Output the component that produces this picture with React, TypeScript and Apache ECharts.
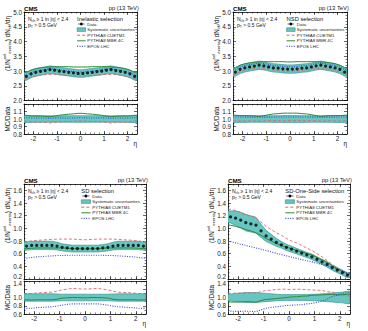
import React, { useEffect, useRef } from "react";
import * as echarts from "echarts";

// Bin centres in eta (bin width 0.2) and labelled eta ticks
const etaCenters = [-2.3, -2.1, -1.9, -1.7, -1.5, -1.3, -1.1, -0.9, -0.7, -0.5, -0.3, -0.1, 0.1, 0.3, 0.5, 0.7, 0.9, 1.1, 1.3, 1.5, 1.7, 1.9, 2.1, 2.3];
const etaTicks = [-2, -1, 0, 1, 2];
const etaRange = [-2.4, 2.4];

// Inelastic selection
const inelasticData = [2.82, 2.91, 2.96, 2.99, 3.02, 3.05, 3.03, 3.0, 2.98, 2.96, 2.94, 2.92, 2.92, 2.94, 2.96, 2.98, 3.0, 3.03, 3.05, 3.02, 2.99, 2.96, 2.91, 2.82];
const inelasticSys = [0.046, 0.045, 0.044, 0.043, 0.042, 0.042, 0.042, 0.042, 0.043, 0.043, 0.044, 0.044, 0.044, 0.044, 0.043, 0.043, 0.042, 0.042, 0.042, 0.042, 0.043, 0.044, 0.045, 0.046];
const inelasticCUETM1 = [2.74, 2.79, 2.83, 2.86, 2.88, 2.89, 2.89, 2.88, 2.87, 2.86, 2.85, 2.84, 2.84, 2.85, 2.86, 2.87, 2.88, 2.89, 2.89, 2.88, 2.86, 2.83, 2.79, 2.74];
const inelasticMBR4C = [2.96, 3.03, 3.08, 3.11, 3.13, 3.14, 3.15, 3.15, 3.15, 3.15, 3.14, 3.14, 3.14, 3.14, 3.15, 3.15, 3.15, 3.15, 3.14, 3.13, 3.11, 3.08, 3.03, 2.96];
const inelasticEPOS = [2.87, 2.95, 3.0, 3.03, 3.06, 3.08, 3.07, 3.05, 3.02, 3.0, 2.98, 2.97, 2.97, 2.98, 3.0, 3.02, 3.05, 3.07, 3.08, 3.06, 3.03, 3.0, 2.95, 2.87];

// NSD selection
const nsdData = [2.97, 3.06, 3.11, 3.14, 3.17, 3.2, 3.18, 3.14, 3.11, 3.1, 3.08, 3.07, 3.07, 3.08, 3.1, 3.11, 3.14, 3.18, 3.2, 3.17, 3.14, 3.11, 3.06, 2.97];
const nsdSys = [0.047, 0.046, 0.045, 0.044, 0.044, 0.044, 0.044, 0.044, 0.045, 0.045, 0.046, 0.046, 0.046, 0.046, 0.045, 0.045, 0.044, 0.044, 0.044, 0.044, 0.044, 0.045, 0.046, 0.047];
const nsdCUETM1 = [2.9, 2.98, 3.03, 3.06, 3.09, 3.11, 3.1, 3.07, 3.04, 3.03, 3.01, 3.0, 3.0, 3.01, 3.03, 3.04, 3.07, 3.1, 3.11, 3.09, 3.06, 3.03, 2.98, 2.9];
const nsdMBR4C = [3.12, 3.2, 3.25, 3.28, 3.3, 3.31, 3.32, 3.32, 3.32, 3.32, 3.32, 3.31, 3.31, 3.32, 3.32, 3.32, 3.32, 3.32, 3.31, 3.3, 3.28, 3.25, 3.2, 3.12];
const nsdEPOS = [3.05, 3.14, 3.19, 3.22, 3.25, 3.27, 3.26, 3.22, 3.19, 3.18, 3.16, 3.15, 3.15, 3.16, 3.18, 3.19, 3.22, 3.26, 3.27, 3.25, 3.22, 3.19, 3.14, 3.05];

// SD selection
const sdData = [0.72, 0.73, 0.73, 0.73, 0.73, 0.73, 0.72, 0.7, 0.69, 0.68, 0.68, 0.68, 0.68, 0.68, 0.68, 0.69, 0.7, 0.72, 0.73, 0.73, 0.73, 0.73, 0.73, 0.72];
const sdSys = [0.09, 0.09, 0.09, 0.09, 0.09, 0.09, 0.085, 0.08, 0.08, 0.08, 0.08, 0.08, 0.08, 0.08, 0.08, 0.08, 0.08, 0.085, 0.09, 0.09, 0.09, 0.09, 0.09, 0.09];
const sdCUETM1 = [0.79, 0.8, 0.81, 0.815, 0.82, 0.825, 0.83, 0.83, 0.83, 0.83, 0.825, 0.82, 0.82, 0.825, 0.83, 0.83, 0.83, 0.83, 0.825, 0.82, 0.815, 0.81, 0.8, 0.79];
const sdMBR4C = [0.68, 0.685, 0.69, 0.69, 0.69, 0.69, 0.69, 0.69, 0.685, 0.68, 0.68, 0.675, 0.675, 0.68, 0.68, 0.685, 0.69, 0.69, 0.69, 0.69, 0.69, 0.69, 0.685, 0.68];
const sdEPOS = [0.53, 0.54, 0.55, 0.555, 0.56, 0.565, 0.57, 0.57, 0.575, 0.575, 0.575, 0.575, 0.575, 0.575, 0.575, 0.575, 0.57, 0.57, 0.565, 0.56, 0.555, 0.55, 0.54, 0.53];

// SD-One-Side selection
const sdosData = [1.18, 1.16, 1.13, 1.09, 1.07, 1.05, 0.96, 0.88, 0.83, 0.78, 0.74, 0.7, 0.67, 0.64, 0.61, 0.58, 0.55, 0.51, 0.47, 0.43, 0.38, 0.34, 0.3, 0.26];
const sdosSys = [0.08, 0.1, 0.11, 0.12, 0.12, 0.12, 0.11, 0.1, 0.09, 0.08, 0.07, 0.07, 0.07, 0.07, 0.07, 0.07, 0.08, 0.08, 0.09, 0.1, 0.11, 0.12, 0.13, 0.15];
const sdosCUETM1 = [1.3, 1.28, 1.25, 1.21, 1.19, 1.16, 1.1, 1.03, 0.98, 0.93, 0.89, 0.84, 0.8, 0.77, 0.73, 0.69, 0.65, 0.6, 0.55, 0.49, 0.43, 0.37, 0.32, 0.27];
const sdosMBR4C = [1.05, 1.03, 1.01, 0.98, 0.96, 0.93, 0.89, 0.84, 0.8, 0.76, 0.73, 0.7, 0.68, 0.65, 0.63, 0.6, 0.58, 0.54, 0.5, 0.46, 0.41, 0.36, 0.32, 0.28];
const sdosEPOS = [0.79, 0.77, 0.75, 0.73, 0.71, 0.69, 0.67, 0.65, 0.63, 0.605, 0.585, 0.565, 0.545, 0.525, 0.505, 0.49, 0.47, 0.45, 0.43, 0.41, 0.39, 0.36, 0.33, 0.29];

const legendLabels = ["Data", "Systematic uncertainties", "PYTHIA8 CUETM1", "PYTHIA8 MBR 4C", "EPOS LHC"];

const FONT = "'Liberation Sans', Arial, Helvetica, sans-serif";
const BAND_FILL = "#68c6c2";
const BAND_EDGE = "#2e8c80";
const RED = "#e2636c";
const GREEN = "#2f8a3c";
const BLUE = "#3a4cdc";

type AxisSpec = { min: number; max: number; interval: number; minor: number; showMax: boolean; edgeNudge: number };
type Panel = {
  selection: string;
  data: number[];
  sys: number[];
  cuetm1: number[];
  mbr: number[];
  epos: number[];
  left: number;
  width: number;
  mainTop: number;
  mainHeight: number;
  ratioTop: number;
  ratioHeight: number;
  mainAxis: AxisSpec;
  ratioAxis: AxisSpec;
};

// edgeNudge > 0 lifts the lowest label, < 0 lowers the highest one (keeps stacked panels' labels apart)
const topMain: AxisSpec = { min: 2, max: 5, interval: 0.5, minor: 5, showMax: true, edgeNudge: 0 };
const topRatio: AxisSpec = { min: 0.8, max: 1.2, interval: 0.1, minor: 2, showMax: false, edgeNudge: 0 };
const botMain: AxisSpec = { min: 0.2, max: 1.7, interval: 0.2, minor: 4, showMax: false, edgeNudge: 5 };
const botRatio: AxisSpec = { min: 0.6, max: 1.4, interval: 0.2, minor: 2, showMax: true, edgeNudge: -5 };

const panels: Panel[] = [
  { selection: "Inelastic selection", data: inelasticData, sys: inelasticSys, cuetm1: inelasticCUETM1, mbr: inelasticMBR4C, epos: inelasticEPOS,
    left: 24, width: 113, mainTop: 12, mainHeight: 88.7, ratioTop: 104, ratioHeight: 30, mainAxis: topMain, ratioAxis: topRatio },
  { selection: "NSD selection", data: nsdData, sys: nsdSys, cuetm1: nsdCUETM1, mbr: nsdMBR4C, epos: nsdEPOS,
    left: 233, width: 114, mainTop: 12, mainHeight: 88.7, ratioTop: 104, ratioHeight: 30, mainAxis: topMain, ratioAxis: topRatio },
  { selection: "SD selection", data: sdData, sys: sdSys, cuetm1: sdCUETM1, mbr: sdMBR4C, epos: sdEPOS,
    left: 24, width: 122, mainTop: 184, mainHeight: 95, ratioTop: 281, ratioHeight: 33, mainAxis: botMain, ratioAxis: botRatio },
  { selection: "SD-One-Side selection", data: sdosData, sys: sdosSys, cuetm1: sdosCUETM1, mbr: sdosMBR4C, epos: sdosEPOS,
    left: 228, width: 122, mainTop: 184, mainHeight: 95, ratioTop: 281, ratioHeight: 33, mainAxis: botMain, ratioAxis: botRatio },
];

const lineBlack = { color: "#000", width: 0.8 };

function etaMajorAxis(gridIndex: number, position: string, labels: boolean) {
  return {
    type: "value", gridIndex, position, min: etaRange[0], max: etaRange[1],
    axisLine: { show: true, onZero: false, lineStyle: lineBlack },
    axisTick: { show: true, inside: true, length: 3, customValues: etaTicks, lineStyle: { color: "#000", width: 0.6 } },
    axisLabel: { show: labels, customValues: etaTicks, fontSize: 6.3, margin: 1.5, color: "#222", fontFamily: FONT },
    splitLine: { show: false },
  };
}

function etaMinorAxis(gridIndex: number, position: string) {
  return {
    type: "value", gridIndex, position, min: etaRange[0], max: etaRange[1], interval: 0.2,
    axisLine: { show: false, onZero: false },
    axisTick: { show: true, inside: true, length: 1.5, lineStyle: { color: "#000", width: 0.5 } },
    axisLabel: { show: false },
    splitLine: { show: false },
  };
}

function valueAxis(gridIndex: number, position: string, a: AxisSpec, labels: boolean) {
  const pad = Math.abs(a.edgeNudge);
  return {
    type: "value", gridIndex, position, min: a.min, max: a.max, interval: a.interval,
    axisLine: { show: true, onZero: false, lineStyle: lineBlack },
    axisTick: { show: true, inside: true, length: 3, lineStyle: { color: "#000", width: 0.6 } },
    minorTick: { show: true, splitNumber: a.minor, length: 1.5, lineStyle: { color: "#000", width: 0.5 } },
    axisLabel: {
      show: labels, fontSize: 6.3, margin: 2, color: "#222", fontFamily: FONT,
      showMaxLabel: a.showMax,
      formatter: (v: number) => {
        const s = v.toFixed(1);
        if (a.edgeNudge > 0 && Math.abs(v - a.min) < 1e-6) return `{up|${s}}`;
        if (a.edgeNudge < 0 && Math.abs(v - a.max) < 1e-6) return `{down|${s}}`;
        return s;
      },
      rich: {
        up: { fontSize: 6.3, fontFamily: FONT, color: "#222", padding: [0, 0, pad, 0] },
        down: { fontSize: 6.3, fontFamily: FONT, color: "#222", padding: [pad, 0, 0, 0] },
      },
    },
    splitLine: { show: false },
  };
}

// Flat extension of the first/last bin out to the axis edges
function withEdges(values: number[]) {
  const rows = etaCenters.map((x, i) => [x, values[i]]);
  return [[etaRange[0], values[0]], ...rows, [etaRange[1], values[values.length - 1]]];
}

function bandSeries(xi: number, yi: number, lo: number[], hi: number[]) {
  const rows = [
    [etaRange[0], lo[0], hi[0]],
    ...etaCenters.map((x, i) => [x, lo[i], hi[i]]),
    [etaRange[1], lo[lo.length - 1], hi[hi.length - 1]],
  ];
  return {
    type: "custom", xAxisIndex: xi, yAxisIndex: yi, clip: true, silent: true, z: 1,
    data: rows, encode: { x: 0, y: [1, 2] },
    renderItem: (params: any, api: any) => {
      if (params.dataIndex !== 0) return null;
      const pts: number[][] = [];
      for (let i = 0; i < rows.length; i++) pts.push(api.coord([rows[i][0], rows[i][2]]));
      for (let i = rows.length - 1; i >= 0; i--) pts.push(api.coord([rows[i][0], rows[i][1]]));
      return { type: "polygon", shape: { points: pts }, style: { fill: BAND_FILL, stroke: BAND_EDGE, lineWidth: 0.6 } };
    },
  };
}

function curve(xi: number, yi: number, values: number[], color: string, type: any, width: number) {
  return {
    type: "line", xAxisIndex: xi, yAxisIndex: yi, data: withEdges(values), symbol: "none", showSymbol: false,
    clip: true, silent: true, z: 3, lineStyle: { color, width, type },
  };
}

function text(x: number, y: number, str: string, o: any = {}) {
  const size = o.size ?? 5;
  const align = o.align ?? "left";
  const va = o.va ?? "middle";
  return {
    type: "text", x, y, rotation: o.rotation ?? 0, silent: true, z: 100,
    style: {
      text: str, fill: o.color ?? "#111", fontSize: size, fontFamily: FONT, fontWeight: o.weight ?? "normal",
      align, verticalAlign: va, textAlign: align, textVerticalAlign: va,
      lineHeight: o.lineHeight, rich: o.rich,
    },
  };
}

function scripts(size: number) {
  const s = size * 0.68;
  return {
    sub: { fontSize: s, fontFamily: FONT, fill: "#111", verticalAlign: "bottom" },
    sup: { fontSize: s, fontFamily: FONT, fill: "#111", verticalAlign: "top" },
  };
}

function buildOption() {
  const grid: any[] = [];
  const xAxis: any[] = [];
  const yAxis: any[] = [];
  const series: any[] = [];
  const graphic: any[] = [];

  panels.forEach((p) => {
    const sections = [
      { top: p.mainTop, height: p.mainHeight, ax: p.mainAxis, isRatio: false },
      { top: p.ratioTop, height: p.ratioHeight, ax: p.ratioAxis, isRatio: true },
    ];
    sections.forEach((s) => {
      const gi = grid.length;
      grid.push({ left: p.left, top: s.top, width: p.width, height: s.height, outerBoundsMode: "none", containLabel: false });
      const xi = xAxis.length;
      xAxis.push(etaMajorAxis(gi, "bottom", s.isRatio), etaMinorAxis(gi, "bottom"), etaMajorAxis(gi, "top", false), etaMinorAxis(gi, "top"));
      const yi = yAxis.length;
      yAxis.push(valueAxis(gi, "left", s.ax, true), valueAxis(gi, "right", s.ax, false));

      if (!s.isRatio) {
        const lo = p.data.map((d, i) => d * (1 - p.sys[i]));
        const hi = p.data.map((d, i) => d * (1 + p.sys[i]));
        series.push(bandSeries(xi, yi, lo, hi));
        series.push(curve(xi, yi, p.cuetm1, RED, [3, 2], 0.9));
        series.push(curve(xi, yi, p.mbr, GREEN, "solid", 1));
        series.push(curve(xi, yi, p.epos, BLUE, [1, 1.4], 1.1));
        series.push({
          type: "scatter", xAxisIndex: xi, yAxisIndex: yi, silent: true, z: 5,
          data: etaCenters.map((x, i) => [x, p.data[i]]), symbol: "circle", symbolSize: 3.2,
          itemStyle: { color: "#000" },
        });
      } else {
        const lo = p.sys.map((e) => 1 - e);
        const hi = p.sys.map((e) => 1 + e);
        series.push(bandSeries(xi, yi, lo, hi));
        series.push(curve(xi, yi, p.cuetm1.map((m, i) => m / p.data[i]), RED, [3, 2], 0.9));
        series.push(curve(xi, yi, p.mbr.map((m, i) => m / p.data[i]), GREEN, "solid", 1));
        series.push(curve(xi, yi, p.epos.map((m, i) => m / p.data[i]), BLUE, [1, 1.4], 1.1));
      }
    });

    // Panel decorations: header, selection text, legend and axis titles
    const L = p.left;
    const W = p.width;
    const T = p.mainTop;
    const ratioBottom = p.ratioTop + p.ratioHeight;
    graphic.push(text(L, T - 1, "CMS", { size: 6.2, weight: "bold", va: "bottom", color: "#000" }));
    graphic.push(text(L + W + 2, T - 1, "pp (13 TeV)", { size: 5.9, align: "right", va: "bottom", color: "#222" }));
    graphic.push(text(L + 4, T + 6.5, "N{sub|ch} ≥ 1 in |η| < 2.4", { size: 5, lineHeight: 7, rich: scripts(5) }));
    graphic.push(text(L + 4, T + 12.5, "p{sub|T} > 0.5 GeV", { size: 5, lineHeight: 7, rich: scripts(5) }));
    graphic.push(text(L + 0.47 * W, T + 6.5, p.selection, { size: 5.8, color: "#111" }));

    const sx0 = L + 0.47 * W;
    const sx1 = L + 0.545 * W;
    const tx = L + 0.56 * W;
    legendLabels.forEach((lab, k) => {
      const y = T + 12 + k * 5.6;
      if (k === 0) {
        graphic.push({ type: "line", silent: true, z: 100, shape: { x1: sx0 + 1, y1: y, x2: sx1 - 1, y2: y }, style: { stroke: "#000", lineWidth: 0.6 } });
        graphic.push({ type: "circle", silent: true, z: 100, shape: { cx: (sx0 + sx1) / 2, cy: y, r: 1.4 }, style: { fill: "#000" } });
      } else if (k === 1) {
        graphic.push({ type: "rect", silent: true, z: 100, shape: { x: sx0, y: y - 1.8, width: sx1 - sx0, height: 3.6 }, style: { fill: BAND_FILL, stroke: BAND_EDGE, lineWidth: 0.6 } });
      } else {
        const color = k === 2 ? RED : k === 3 ? GREEN : BLUE;
        const dash = k === 2 ? [3, 2] : k === 3 ? null : [1, 1.4];
        graphic.push({ type: "line", silent: true, z: 100, shape: { x1: sx0, y1: y, x2: sx1, y2: y }, style: { stroke: color, lineWidth: k === 4 ? 1.1 : 1, lineDash: dash } });
      }
      graphic.push(text(tx, y, lab, { size: 4.4, color: "#222" }));
    });

    graphic.push(text(L - 17, T + 4, "(1/N{sup|sel}{sub|events}) dN{sub|ch}/dη", {
      size: 6.3, align: "right", rotation: Math.PI / 2, lineHeight: 9, rich: scripts(6.3), color: "#111",
    }));
    graphic.push(text(L - 17, p.ratioTop + p.ratioHeight / 2, "MC/Data", { size: 6.3, align: "center", rotation: Math.PI / 2, color: "#111" }));
    graphic.push(text(L + W, ratioBottom + 9, "η", { size: 6.5, align: "right", color: "#111" }));
  });

  return { animation: false, backgroundColor: "#fff", grid, xAxis, yAxis, series, graphic };
}

export default function App() {
  const ref = useRef<HTMLDivElement>(null);
  useEffect(() => {
    document.body.style.margin = "0";
    const chart = echarts.init(ref.current as HTMLDivElement, null, { renderer: "svg" });
    chart.setOption(buildOption() as any);
    return () => chart.dispose();
  }, []);
  return <div ref={ref} style={{ width: 368, height: 331 }} />;
}
